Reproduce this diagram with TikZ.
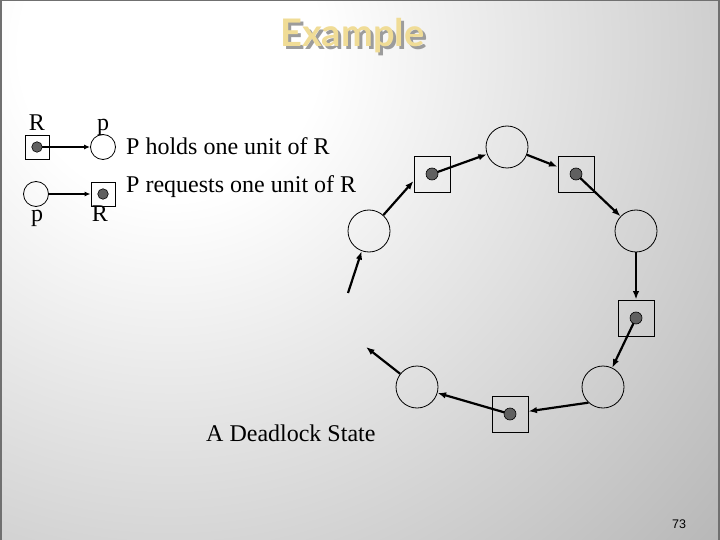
\documentclass[tikz,border=0pt]{standalone}
\usepackage{fontspec}
\setmainfont{Liberation Serif}
\newfontfamily\titlefont{Lato}
\newfontfamily\numfont{Liberation Sans}
\usetikzlibrary{arrows.meta}
\definecolor{bggray}{HTML}{ABABAB}
\definecolor{dotgray}{HTML}{606060}
\definecolor{titleyellow}{HTML}{F0DC96}
\definecolor{titleshadow}{HTML}{9C9C9C}
\definecolor{edgegray}{HTML}{707070}
\pgfdeclareradialshading{bgshade}{\pgfpoint{0bp}{0bp}}{color(0bp)=(white); color(5bp)=(white); color(28bp)=(bggray); color(50bp)=(bggray)}
\tikzset{
  proc/.style={circle,draw,line width=0.8pt,minimum size=42pt,inner sep=0pt},
  res/.style={rectangle,draw,line width=0.9pt,minimum size=36pt,inner sep=0pt},
  lproc/.style={circle,draw,line width=0.8pt,minimum size=25pt,inner sep=0pt},
  lres/.style={rectangle,draw,line width=0.9pt,minimum size=24pt,inner sep=0pt},
  unitdot/.style={circle,draw,fill=dotgray,line width=0.6pt,minimum size=12pt,inner sep=0pt},
  lunitdot/.style={circle,draw,fill=dotgray,line width=0.6pt,minimum size=10.5pt,inner sep=0pt},
  edge/.style={line width=2.2pt,-{Latex[length=8.5pt,width=6.5pt]}},
  ledge/.style={line width=1.4pt,-{Latex[length=6pt,width=5pt]}},
  lbl/.style={font=\fontsize{24}{28}\selectfont,anchor=base,inner sep=0pt},
  titletext/.style={font=\titlefont\bfseries\fontsize{38}{40}\selectfont,anchor=base west,inner sep=0pt},
}
\begin{document}
\begin{tikzpicture}[x=1pt,y=-1pt]
\useasboundingbox (0,0) rectangle (720,540);
\begin{scope}
  \clip (0,0) rectangle (720,540);
  \shade[shading=bgshade] (170,50) circle (750);
\end{scope}
\draw[edgegray,line width=2pt] (1,0) -- (1,540);
\draw[edgegray,line width=2pt] (719,0) -- (719,540);
\draw[edgegray,line width=1.2pt] (0,0.6) -- (720,0.6);

% title
\node[titletext,text=titleshadow] (titleshadow) at (283,50) {Example};
\node[titletext,text=titleyellow] (title) at (280,47) {Example};

% legend
\node[lres] (r1) at (37,147) {};
\node[lproc] (p1) at (103,147) {};
\node[lproc] (p2) at (36,194) {};
\node[lres] (r2) at (103,194) {};
\draw[ledge] (r1.center) -- (p1);
\draw[ledge] (p2) -- (r2);
\node[lunitdot] (r1d) at (r1.center) {};
\node[lunitdot] (r2d) at (r2.center) {};
\node[lbl] (lR1) at (37,131) {R};
\node[lbl] (lp1) at (103,131) {p};
\node[lbl] (lp2) at (37,222) {p};
\node[lbl] (lR2) at (100,222) {R};
\node[lbl,anchor=base west] (holds) at (126,155) {P holds one unit of R};
\node[lbl,anchor=base west] (requests) at (126,193) {P requests one unit of R};

% cycle
\node[proc] (A) at (369,231) {};
\node[res] (B) at (432,174) {};
\node[proc] (C) at (507,147) {};
\node[res] (D) at (576,174) {};
\node[proc] (E) at (636,231) {};
\node[res] (F) at (636,318) {};
\node[proc] (G) at (603,387) {};
\node[res] (H) at (510,414) {};
\node[proc] (I) at (417,387) {};
\coordinate (inA) at (348,293);
\coordinate (outI) at (366,347);

\draw[edge] (inA) -- (A.250);
\draw[edge] (A.48) -- ([yshift=-7pt]B.west);
\draw[edge] (B.center) -- (C);
\draw[edge] (C) -- (D);
\draw[edge] (D.center) -- (E);
\draw[edge] (E) -- (F);
\draw[edge] (F.center) -- (G);
\draw[edge] (G.227) -- (H);
\draw[edge] (H.center) -- (I);
\draw[edge] (I) -- (outI);

\node[unitdot] (dB) at (B.center) {};
\node[unitdot] (dD) at (D.center) {};
\node[unitdot] (dF) at (F.center) {};
\node[unitdot] (dH) at (H.center) {};

\node[lbl,anchor=base west] (caption) at (206,441) {A Deadlock State};
\node[font=\numfont\fontsize{12.5}{14}\selectfont,anchor=base west,inner sep=0pt] (pagenum) at (672,528) {73};
\end{tikzpicture}
\end{document}
